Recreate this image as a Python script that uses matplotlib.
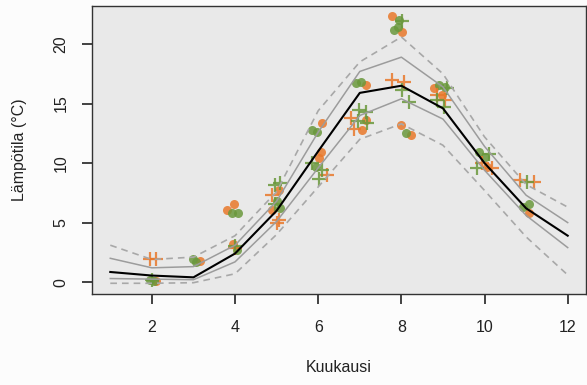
import matplotlib
matplotlib.use("Agg")
import matplotlib.pyplot as plt
import numpy as np

plt.rcParams['font.family'] = ['Liberation Sans', 'DejaVu Sans']

# Monthly envelope lines
months = [1, 2, 3, 4, 5, 6, 7, 8, 9, 10, 11, 12]
mean_line   = [0.85, 0.55, 0.4, 2.4, 6.0, 11.0, 15.9, 16.5, 14.6, 10.0, 6.2, 3.9]
upper_inner = [2.0, 1.2, 1.3, 3.1, 6.8, 12.6, 17.7, 18.9, 16.4, 11.4, 7.3, 5.0]
lower_inner = [0.3, 0.25, 0.2, 1.7, 5.1, 9.6, 14.0, 15.4, 13.7, 9.4, 5.6, 2.9]
upper_outer = [3.1, 1.9, 2.1, 3.9, 7.6, 14.4, 18.5, 20.6, 17.5, 12.2, 8.2, 6.3]
lower_outer = [-0.1, -0.1, -0.05, 0.7, 4.0, 8.0, 12.0, 13.3, 11.5, 7.7, 3.8, 0.6]

# Observations (x = month with jitter, y = temperature)
orange_circle_x = [2.1, 3.15, 3.8, 3.97, 3.95, 4.9, 5.05, 6.06, 6.02, 6.1, 7.14, 7.06, 7.14,
                   7.78, 8.02, 7.98, 8.22, 8.78, 8.97, 10.06, 11.08]
orange_circle_y = [0.1, 1.8, 6.05, 6.6, 3.2, 6.05, 7.7, 10.95, 10.4, 13.35, 16.55, 12.8, 13.6,
                   22.4, 21.0, 13.2, 12.35, 16.3, 15.7, 9.7, 5.77]
orange_plus_x = [1.95, 2.1, 4.0, 4.9, 5.0, 5.05, 6.22, 6.78, 6.86, 7.78, 8.06, 8.85, 9.06,
                 9.94, 10.18, 10.86, 11.18]
orange_plus_y = [1.9, 1.9, 2.9, 7.3, 4.95, 5.2, 9.0, 13.75, 12.9, 17.0, 16.85, 15.7, 15.3,
                 9.97, 9.55, 8.57, 8.43]
green_circle_x = [1.95, 2.05, 3.0, 3.05, 3.92, 4.08, 4.05, 5.09, 5.0, 5.84, 5.98, 5.94,
                  6.9, 7.02, 7.94, 7.83, 7.92, 8.1, 8.9, 9.06, 9.86, 10.02, 10.92, 11.08]
green_circle_y = [0.15, 0.1, 1.9, 1.7, 5.77, 5.82, 2.7, 6.2, 6.8, 12.8, 12.6, 9.7,
                  16.7, 16.8, 22.0, 21.2, 21.45, 12.5, 16.55, 16.4, 10.95, 10.5, 6.33, 6.6]
green_plus_x = [2.0, 4.0, 4.97, 5.09, 4.97, 5.86, 6.1, 6.02, 6.98, 7.14, 6.95, 7.18,
                8.02, 8.02, 8.18, 9.1, 8.85, 9.02, 10.1, 9.82, 11.02]
green_plus_y = [0.2, 3.0, 8.15, 8.3, 6.6, 10.0, 9.4, 8.7, 14.45, 14.3, 13.5, 13.4,
                21.9, 16.1, 15.15, 16.3, 15.3, 14.75, 10.8, 9.55, 8.43]

x_ticks = [2, 4, 6, 8, 10, 12]
y_ticks = [0, 5, 10, 15, 20]

orange = '#E8782A'
green = '#6A983C'
gray = '#9C9C9C'
dash_gray = '#A8A8A8'

fig = plt.figure(figsize=(5.87, 3.85), dpi=100, facecolor='#FCFCFC')
ax = fig.add_axes([92/587, (385-294)/385, (586-92)/587, (294-6)/385])
ax.set_facecolor('#E9E9E9')

ax.plot(orange_circle_x, orange_circle_y, 'o', color=orange, ms=6.5, mec='none', alpha=0.85, zorder=2)
ax.plot(green_circle_x, green_circle_y, 'o', color=green, ms=6.5, mec='none', alpha=0.85, zorder=2)
ax.plot(orange_plus_x, orange_plus_y, '+', color=orange, ms=10, mew=1.6, alpha=0.85, zorder=2)
ax.plot(green_plus_x, green_plus_y, '+', color=green, ms=10, mew=1.6, alpha=0.85, zorder=2)

ax.plot(months, upper_outer, color=dash_gray, lw=1.2, ls=(0, (4, 3)), zorder=3)
ax.plot(months, lower_outer, color=dash_gray, lw=1.2, ls=(0, (4, 3)), zorder=3)
ax.plot(months, upper_inner, color=gray, lw=1.1, zorder=3)
ax.plot(months, lower_inner, color=gray, lw=1.1, zorder=3)
ax.plot(months, mean_line, color='black', lw=1.5, zorder=4)

ax.set_xlim(0.56, 12.44)
ax.set_ylim(-1.0, 23.2)
ax.set_xticks(x_ticks)
ax.set_yticks(y_ticks)
ax.set_xticklabels([str(v) for v in x_ticks])
ax.set_yticklabels([str(v) for v in y_ticks], rotation=90, va='center')
ax.tick_params(axis='x', direction='out', length=7, width=1.2, pad=12, labelsize=11.5, color='#222222', labelcolor='#222222')
ax.tick_params(axis='y', direction='out', length=7, width=1.2, pad=10, labelsize=11.5, color='#222222', labelcolor='#222222')
for s in ax.spines.values():
    s.set_color('#333333')
    s.set_linewidth(1.0)

ax.set_xlabel('Kuukausi', fontsize=11.5, color='#222222')
ax.xaxis.set_label_coords(0.5, (294-368)/288)
ax.xaxis.label.set_va('center')
ax.set_ylabel('Lämpötila (°C)', fontsize=11.5, color='#222222')
ax.yaxis.set_label_coords((20-92)/494, 0.5)
ax.yaxis.label.set_va('center')

fig.savefig('out.png', dpi=100, facecolor=fig.get_facecolor())
